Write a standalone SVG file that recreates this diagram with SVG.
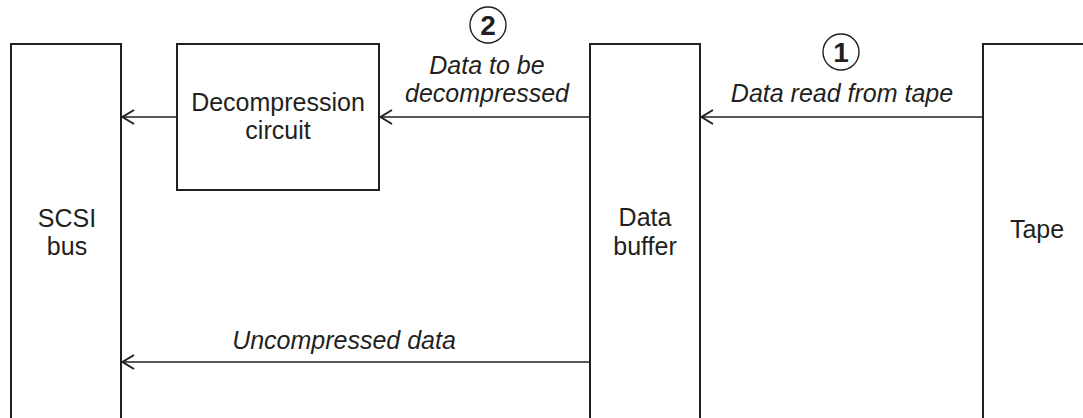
<svg xmlns="http://www.w3.org/2000/svg" width="1083" height="418" viewBox="0 0 1083 418">
<style>
.box{fill:#fff;stroke:#231f20;stroke-width:2}
.conn{stroke:#231f20;stroke-width:1.4;fill:none}
.lbl{font-family:"Liberation Sans",Arial,sans-serif;font-size:25px;fill:#231f20;text-anchor:middle}
.it{font-style:italic}
.num{font-family:"Liberation Sans",Arial,sans-serif;font-size:28px;font-weight:bold;fill:#231f20;text-anchor:middle}
.circ{fill:none;stroke:#231f20;stroke-width:1.4}
</style>
<defs>
<marker id="arr" viewBox="0 0 14 16" refX="13" refY="8" markerWidth="14" markerHeight="16" markerUnits="userSpaceOnUse" orient="auto">
<path d="M1,1 L12.5,8 L1,15" fill="none" stroke="#231f20" stroke-width="2"/>
</marker>
</defs>
<rect width="1083" height="418" fill="#fff"/>
<g id="scsi">
<path class="box" d="M11,420 V44 H121 V420"/>
<text class="lbl" x="67" y="227">SCSI</text>
<text class="lbl" x="67" y="255">bus</text>
</g>
<g id="decomp">
<rect class="box" x="177" y="44" width="202" height="146"/>
<text class="lbl" x="278" y="111">Decompression</text>
<text class="lbl" x="278" y="139">circuit</text>
</g>
<g id="buffer">
<path class="box" d="M590,420 V44 H700 V420"/>
<text class="lbl" x="645" y="226">Data</text>
<text class="lbl" x="645" y="255">buffer</text>
</g>
<g id="tape">
<path class="box" d="M983,420 V44 H1090"/>
<text class="lbl" x="1037" y="238">Tape</text>
</g>
<g id="connectors">
<line class="conn" x1="982" y1="117" x2="701" y2="117" marker-end="url(#arr)"/>
<line class="conn" x1="589" y1="117" x2="380" y2="117" marker-end="url(#arr)"/>
<line class="conn" x1="176" y1="117" x2="122" y2="117" marker-end="url(#arr)"/>
<line class="conn" x1="589" y1="362" x2="122" y2="362" marker-end="url(#arr)"/>
</g>
<g id="labels">
<circle class="circ" cx="488" cy="25" r="18"/>
<text class="num" x="488" y="35">2</text>
<text class="lbl it" x="487" y="74">Data to be</text>
<text class="lbl it" x="487" y="102">decompressed</text>
<circle class="circ" cx="841" cy="52" r="18"/>
<text class="num" x="841" y="62">1</text>
<text class="lbl it" x="842" y="102">Data read from tape</text>
<text class="lbl it" x="344" y="349">Uncompressed data</text>
</g>
</svg>
